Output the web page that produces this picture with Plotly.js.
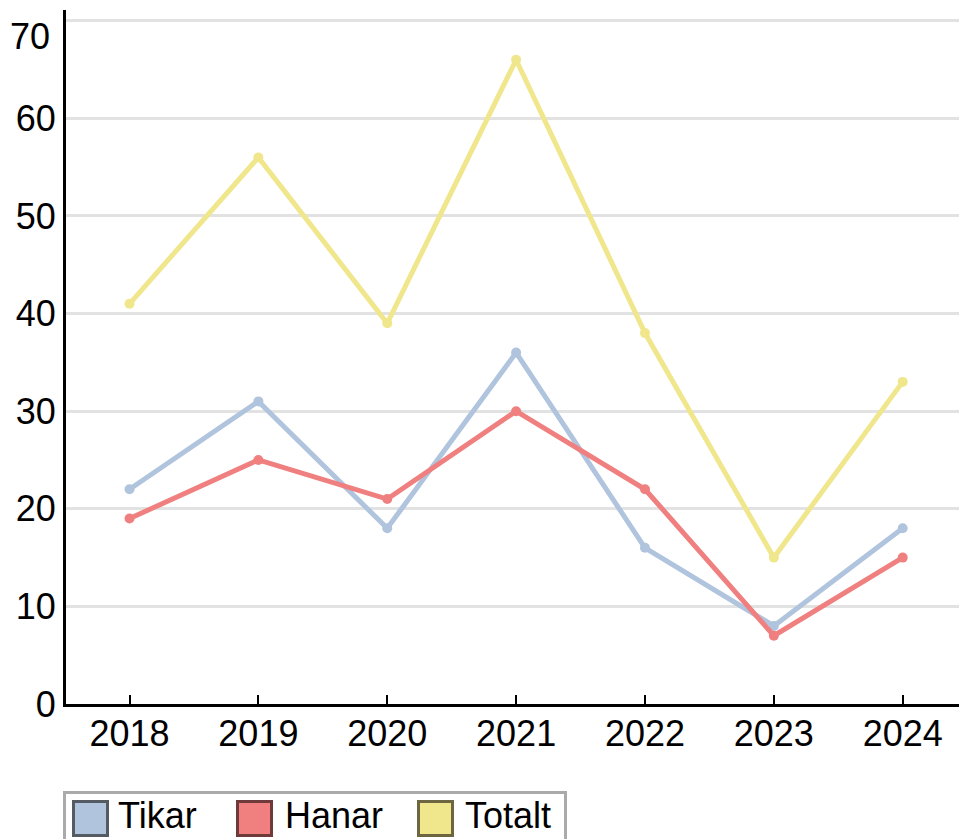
<!DOCTYPE html>
<html>
<head>
<meta charset="utf-8">
<script src="https://cdn.plot.ly/plotly-3.0.1.min.js"></script>
<style>html,body{margin:0;padding:0;background:#fff;}#chart{width:959px;height:839px;}</style>
</head>
<body>
<div id="chart"></div>
<script>
const years = ['2018','2019','2020','2021','2022','2023','2024'];
const tikar = [22, 31, 18, 36, 16, 8, 18];
const hanar = [19, 25, 21, 30, 22, 7, 15];
const totalt = [41, 56, 39, 66, 38, 15, 33];
const seriesNames = ['Tikar', 'Hanar', 'Totalt'];
const yTicks = [0, 10, 20, 30, 40, 50, 60, 70];

const colors = ['#b0c4de', '#f08080', '#f0e68c'];
const borders = ['#555b63', '#6e3a3a', '#6e6640'];
const FONT = '"Liberation Sans", Arial, sans-serif';
const FS = 36;

const W = 959, H = 839;
const M = {l: 66, r: 0, t: 10, b: 135};
const pw = W - M.l - M.r, ph = H - M.t - M.b;
const px = x => (x - M.l) / pw;
const py = y => (H - M.b - y) / ph;

const data = [tikar, hanar, totalt].map((vals, i) => ({
  type: 'scatter', mode: 'lines+markers', x: years, y: vals, name: seriesNames[i],
  line: {color: colors[i], width: 5}, marker: {color: colors[i], size: 10},
  showlegend: false, hoverinfo: 'x+y+name'
}));

const shapes = [
  {type: 'rect', xref: 'paper', yref: 'paper', x0: px(64.5), x1: px(565.5), y0: py(850), y1: py(792.5),
   line: {color: '#aaaaaa', width: 3}, fillcolor: '#ffffff', layer: 'above'}
];
const annotations = [
  {xref: 'paper', yref: 'y', x: 0, y: 70, text: '70', showarrow: false, xanchor: 'right', yanchor: 'middle',
   xshift: -14, yshift: -16, font: {family: FONT, size: FS, color: '#000'}}
];
const boxX = [73.5, 237.5, 418.5];
const textX = [116, 283, 463];
boxX.forEach((bx, i) => {
  shapes.push({type: 'rect', xref: 'paper', yref: 'paper', x0: px(bx), x1: px(bx + 34), y0: py(835.5), y1: py(801.5),
    line: {color: borders[i], width: 3}, fillcolor: colors[i], layer: 'above'});
  annotations.push({xref: 'paper', yref: 'paper', x: px(textX[i]), y: py(815), text: seriesNames[i], showarrow: false,
    xanchor: 'left', yanchor: 'middle', font: {family: FONT, size: FS, color: '#000'}});
});

const layout = {
  width: W, height: H, margin: M, paper_bgcolor: '#fff', plot_bgcolor: '#fff', showlegend: false,
  font: {family: FONT, size: FS, color: '#000'},
  xaxis: {type: 'category', range: [-0.493, 6.437], showgrid: false, showline: true, linecolor: '#000', linewidth: 3,
    ticks: 'inside', ticklen: 9, tickwidth: 2, tickcolor: '#000', zeroline: false, fixedrange: true,
    ticklabelstandoff: -4, tickfont: {family: FONT, size: FS, color: '#000'}},
  yaxis: {range: [0, 71.1], tickvals: yTicks, ticktext: yTicks.map(v => v === 70 ? '' : String(v)),
    showgrid: true, gridcolor: '#e2e2e2', gridwidth: 3, showline: true, linecolor: '#000', linewidth: 3,
    ticks: '', zeroline: false, fixedrange: true, tickfont: {family: FONT, size: FS, color: '#000'}},
  shapes: shapes, annotations: annotations
};
Plotly.newPlot('chart', data, layout, {displayModeBar: false, staticPlot: true});
</script>
</body>
</html>
